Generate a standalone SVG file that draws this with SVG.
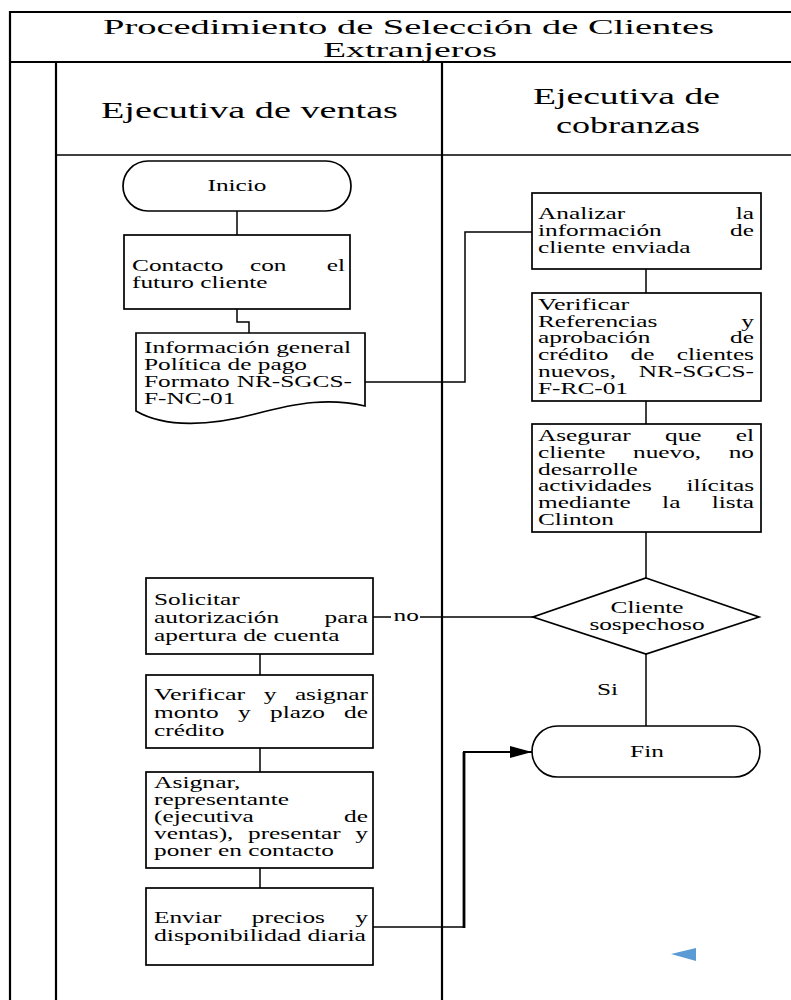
<svg xmlns="http://www.w3.org/2000/svg" width="791" height="1000" viewBox="0 0 791 1000">
  <style>
    .lane { fill: none; stroke: #000; stroke-width: 2.2; }
    .hdr { fill: none; stroke: #000; stroke-width: 1.6; }
    .box { fill: #fff; stroke: #000; stroke-width: 1.7; }
    .conn { fill: none; stroke: #000; stroke-width: 1.5; }
    .t { font-family: "Liberation Serif", "Times New Roman", serif; font-size: 16px; fill: #000; }
    .h { font-family: "Liberation Serif", "Times New Roman", serif; font-size: 24px; fill: #000; }
    .ttl { font-family: "Liberation Serif", "Times New Roman", serif; font-size: 21px; fill: #000; }
  </style>
  <defs>
    <marker id="arrow" markerUnits="userSpaceOnUse" markerWidth="22" markerHeight="12" refX="22" refY="6" orient="auto">
      <path d="M0,0 L22,6 L0,12 Z" fill="#000"/>
    </marker>
  </defs>

  <rect width="791" height="1000" fill="#fff"/>

  <!-- swimlane frame -->
  <g id="pool">
    <path class="lane" d="M10,1002 V12 H812"/>
    <path class="lane" d="M10,62 H812"/>
    <path class="lane" d="M56,62 V1002"/>
    <path class="lane" d="M442,62 V1002"/>
    <path class="hdr" d="M56,155 H812"/>
    <text class="ttl" x="103" y="34" textLength="611" lengthAdjust="spacingAndGlyphs">Procedimiento de Selección de Clientes</text>
    <text class="ttl" x="323" y="57" textLength="174" lengthAdjust="spacingAndGlyphs">Extranjeros</text>
    <text class="h" x="101" y="118" textLength="297" lengthAdjust="spacingAndGlyphs">Ejecutiva de ventas</text>
    <text class="h" x="533" y="104" textLength="187" lengthAdjust="spacingAndGlyphs">Ejecutiva de</text>
    <text class="h" x="556" y="133" textLength="144" lengthAdjust="spacingAndGlyphs">cobranzas</text>
  </g>

  <!-- connectors -->
  <g id="connectors">
    <path class="conn" d="M237,211 V235"/>
    <path class="conn" d="M237,309 V322 H249 V333"/>
    <path class="conn" d="M365,382 H465 V232 H532"/>
    <path class="conn" d="M646,269 V293"/>
    <path class="conn" d="M646,401 V424"/>
    <path class="conn" d="M646,532 V578"/>
    <path class="conn" d="M646,654 V726"/>
    <path class="conn" d="M373,617 H391"/>
    <path class="conn" d="M420,617 H533"/>
    <text class="t" x="393.5" y="621" textLength="25.3" lengthAdjust="spacingAndGlyphs">no</text>
    <text class="t" x="597" y="695" textLength="21.1" lengthAdjust="spacingAndGlyphs">Si</text>
    <path class="conn" d="M260,654 V675"/>
    <path class="conn" d="M260,748 V772"/>
    <path class="conn" d="M260,868 V888"/>
    <path class="conn" d="M373,927 H464"/>
    <path class="conn" d="M464,928 V752" style="stroke-width:2.8"/>
    <path class="conn" d="M463,752 H532" style="stroke-width:2" marker-end="url(#arrow)"/>
  </g>

  <!-- start -->
  <g id="inicio">
    <rect class="box" x="123" y="161" width="228" height="50" rx="25" ry="25"/>
    <text class="t" x="207.5" y="191" textLength="59" lengthAdjust="spacingAndGlyphs">Inicio</text>
  </g>

  <g id="contacto">
    <rect class="box" x="124" y="235" width="226" height="74"/>
    <text class="t" x="132" y="271" textLength="91.4" lengthAdjust="spacingAndGlyphs">Contacto</text>
    <text class="t" x="250" y="271" textLength="36.5" lengthAdjust="spacingAndGlyphs">con</text>
    <text class="t" x="326.7" y="271" textLength="18.3" lengthAdjust="spacingAndGlyphs">el</text>
    <text class="t" x="132" y="288" textLength="135.6" lengthAdjust="spacingAndGlyphs">futuro cliente</text>
  </g>

  <!-- document -->
  <g id="documento">
    <path class="box" d="M136,333 H365 V406 C330,398 300,402 255,414 C210,426 165,428 136,411 Z"/>
    <text class="t" x="144" y="353" textLength="207" lengthAdjust="spacingAndGlyphs">Información general</text>
    <text class="t" x="144" y="370" textLength="163" lengthAdjust="spacingAndGlyphs">Política de pago</text>
    <text class="t" x="144" y="387" textLength="85.7" lengthAdjust="spacingAndGlyphs">Formato</text>
    <text class="t" x="236.7" y="387" textLength="115.3" lengthAdjust="spacingAndGlyphs">NR-SGCS-</text>
    <text class="t" x="144" y="404" textLength="91.4" lengthAdjust="spacingAndGlyphs">F-NC-01</text>
  </g>

  <g id="analizar">
    <rect class="box" x="532" y="193" width="229" height="76"/>
    <text class="t" x="538" y="219" textLength="87.1" lengthAdjust="spacingAndGlyphs">Analizar</text>
    <text class="t" x="735.7" y="219" textLength="18.3" lengthAdjust="spacingAndGlyphs">la</text>
    <text class="t" x="538" y="236" textLength="123.7" lengthAdjust="spacingAndGlyphs">información</text>
    <text class="t" x="730.1" y="236" textLength="23.9" lengthAdjust="spacingAndGlyphs">de</text>
    <text class="t" x="538" y="253" textLength="152.5" lengthAdjust="spacingAndGlyphs">cliente enviada</text>
  </g>

  <g id="verificar-referencias">
    <rect class="box" x="532" y="293" width="229" height="108"/>
    <text class="t" x="538" y="310" textLength="91.3" lengthAdjust="spacingAndGlyphs">Verificar</text>
    <text class="t" x="538" y="327" textLength="119.4" lengthAdjust="spacingAndGlyphs">Referencias</text>
    <text class="t" x="741.3" y="327" textLength="12.7" lengthAdjust="spacingAndGlyphs">y</text>
    <text class="t" x="538" y="343" textLength="112.4" lengthAdjust="spacingAndGlyphs">aprobación</text>
    <text class="t" x="730.1" y="343" textLength="23.9" lengthAdjust="spacingAndGlyphs">de</text>
    <text class="t" x="538" y="360" textLength="70.3" lengthAdjust="spacingAndGlyphs">crédito</text>
    <text class="t" x="630.6" y="360" textLength="23.9" lengthAdjust="spacingAndGlyphs">de</text>
    <text class="t" x="676.7" y="360" textLength="77.3" lengthAdjust="spacingAndGlyphs">clientes</text>
    <text class="t" x="538" y="377" textLength="78" lengthAdjust="spacingAndGlyphs">nuevos,</text>
    <text class="t" x="638.7" y="377" textLength="115.3" lengthAdjust="spacingAndGlyphs">NR-SGCS-</text>
    <text class="t" x="538" y="394" textLength="90" lengthAdjust="spacingAndGlyphs">F-RC-01</text>
  </g>

  <g id="asegurar">
    <rect class="box" x="532" y="424" width="229" height="108"/>
    <text class="t" x="538" y="441" textLength="92.7" lengthAdjust="spacingAndGlyphs">Asegurar</text>
    <text class="t" x="665" y="441" textLength="36.5" lengthAdjust="spacingAndGlyphs">que</text>
    <text class="t" x="735.7" y="441" textLength="18.3" lengthAdjust="spacingAndGlyphs">el</text>
    <text class="t" x="538" y="458" textLength="67.4" lengthAdjust="spacingAndGlyphs">cliente</text>
    <text class="t" x="633" y="458" textLength="68.2" lengthAdjust="spacingAndGlyphs">nuevo,</text>
    <text class="t" x="728.7" y="458" textLength="25.3" lengthAdjust="spacingAndGlyphs">no</text>
    <text class="t" x="538" y="475" textLength="99.8" lengthAdjust="spacingAndGlyphs">desarrolle</text>
    <text class="t" x="538" y="491" textLength="113.8" lengthAdjust="spacingAndGlyphs">actividades</text>
    <text class="t" x="686.5" y="491" textLength="67.5" lengthAdjust="spacingAndGlyphs">ilícitas</text>
    <text class="t" x="538" y="508" textLength="92.7" lengthAdjust="spacingAndGlyphs">mediante</text>
    <text class="t" x="662.1" y="508" textLength="18.3" lengthAdjust="spacingAndGlyphs">la</text>
    <text class="t" x="711.8" y="508" textLength="42.2" lengthAdjust="spacingAndGlyphs">lista</text>
    <text class="t" x="538" y="525" textLength="75.9" lengthAdjust="spacingAndGlyphs">Clinton</text>
  </g>

  <!-- decision -->
  <g id="sospechoso">
    <polygon class="box" points="646,578 759,617 646,654 533,617"/>
    <text class="t" x="610.5" y="613" textLength="73.1" lengthAdjust="spacingAndGlyphs">Cliente</text>
    <text class="t" x="589.4" y="630" textLength="115.2" lengthAdjust="spacingAndGlyphs">sospechoso</text>
  </g>

  <g id="fin">
    <rect class="box" x="532" y="726" width="228" height="51" rx="25.5" ry="25.5"/>
    <text class="t" x="630.1" y="757" textLength="33.7" lengthAdjust="spacingAndGlyphs">Fin</text>
  </g>

  <g id="solicitar">
    <rect class="box" x="146" y="578" width="227" height="76"/>
    <text class="t" x="154" y="605" textLength="85.7" lengthAdjust="spacingAndGlyphs">Solicitar</text>
    <text class="t" x="154" y="623" textLength="125.1" lengthAdjust="spacingAndGlyphs">autorización</text>
    <text class="t" x="324.5" y="623" textLength="43.5" lengthAdjust="spacingAndGlyphs">para</text>
    <text class="t" x="154" y="641" textLength="185.4" lengthAdjust="spacingAndGlyphs">apertura de cuenta</text>
  </g>

  <g id="verificar-monto">
    <rect class="box" x="146" y="675" width="227" height="73"/>
    <text class="t" x="154" y="700" textLength="91.3" lengthAdjust="spacingAndGlyphs">Verificar</text>
    <text class="t" x="263.8" y="700" textLength="12.7" lengthAdjust="spacingAndGlyphs">y</text>
    <text class="t" x="294.9" y="700" textLength="73.1" lengthAdjust="spacingAndGlyphs">asignar</text>
    <text class="t" x="154" y="718" textLength="64.7" lengthAdjust="spacingAndGlyphs">monto</text>
    <text class="t" x="238" y="718" textLength="12.7" lengthAdjust="spacingAndGlyphs">y</text>
    <text class="t" x="270" y="718" textLength="54.8" lengthAdjust="spacingAndGlyphs">plazo</text>
    <text class="t" x="344.1" y="718" textLength="23.9" lengthAdjust="spacingAndGlyphs">de</text>
    <text class="t" x="154" y="736" textLength="70.3" lengthAdjust="spacingAndGlyphs">crédito</text>
  </g>

  <g id="asignar">
    <rect class="box" x="146" y="772" width="227" height="96"/>
    <text class="t" x="154" y="788" textLength="86.4" lengthAdjust="spacingAndGlyphs">Asignar,</text>
    <text class="t" x="154" y="805" textLength="134.9" lengthAdjust="spacingAndGlyphs">representante</text>
    <text class="t" x="154" y="822" textLength="99.8" lengthAdjust="spacingAndGlyphs">(ejecutiva</text>
    <text class="t" x="344.1" y="822" textLength="23.9" lengthAdjust="spacingAndGlyphs">de</text>
    <text class="t" x="154" y="839" textLength="79.4" lengthAdjust="spacingAndGlyphs">ventas),</text>
    <text class="t" x="248" y="839" textLength="92.7" lengthAdjust="spacingAndGlyphs">presentar</text>
    <text class="t" x="355.3" y="839" textLength="12.7" lengthAdjust="spacingAndGlyphs">y</text>
    <text class="t" x="154" y="856" textLength="179.9" lengthAdjust="spacingAndGlyphs">poner en contacto</text>
  </g>

  <g id="enviar">
    <rect class="box" x="146" y="888" width="227" height="77"/>
    <text class="t" x="154" y="923" textLength="67.4" lengthAdjust="spacingAndGlyphs">Enviar</text>
    <text class="t" x="251.8" y="923" textLength="73.1" lengthAdjust="spacingAndGlyphs">precios</text>
    <text class="t" x="355.3" y="923" textLength="12.7" lengthAdjust="spacingAndGlyphs">y</text>
    <text class="t" x="154" y="941" textLength="212" lengthAdjust="spacingAndGlyphs">disponibilidad diaria</text>
  </g>

  <!-- small blue pointer -->
  <polygon points="671,954 696,948 696,961" fill="#5b9bd5"/>
</svg>
